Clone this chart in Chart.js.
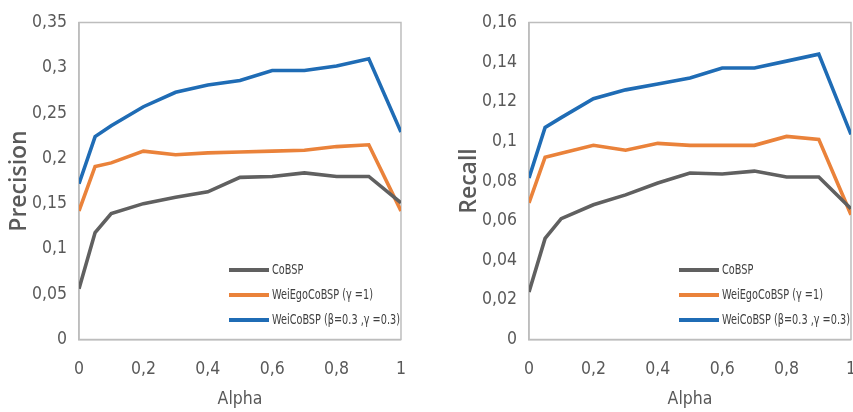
<!DOCTYPE html>
<html>
<head>
<meta charset="utf-8">
<script src="https://cdn.jsdelivr.net/npm/chart.js@4/dist/chart.umd.min.js"></script>
<style>
  html, body { margin: 0; padding: 0; background: #fff; overflow: hidden; width: 853px; height: 412px; }
  .panel { position: absolute; top: 0; width: 425px; height: 412px; }
  #leftPanel { left: 0; }
  #rightPanel { left: 450px; }
</style>
</head>
<body>
<div class="panel" id="leftPanel"><canvas id="precisionChart" width="425" height="412"></canvas></div>
<div class="panel" id="rightPanel"><canvas id="recallChart" width="425" height="412"></canvas></div>
<script>
// Alpha values on the x axis
const alphaValues = [0, 0.05, 0.1, 0.2, 0.3, 0.4, 0.5, 0.6, 0.7, 0.8, 0.9, 1];

// Series names
const seriesNames = ['CoBSP', 'WeiEgoCoBSP (γ =1)', 'WeiCoBSP (β=0.3 ,γ =0.3)'];

// Precision per alpha
const precisionCoBSP    = [0.056, 0.118, 0.139, 0.150, 0.157, 0.163, 0.179, 0.180, 0.184, 0.180, 0.180, 0.151];
const precisionWeiEgo   = [0.142, 0.191, 0.195, 0.208, 0.204, 0.206, 0.207, 0.208, 0.209, 0.213, 0.215, 0.142];
const precisionWeiCoBSP = [0.172, 0.224, 0.236, 0.257, 0.273, 0.281, 0.286, 0.297, 0.297, 0.302, 0.310, 0.229];

// Recall per alpha
const recallCoBSP    = [0.024, 0.051, 0.061, 0.068, 0.073, 0.079, 0.084, 0.0835, 0.085, 0.082, 0.082, 0.066];
const recallWeiEgo   = [0.069, 0.092, 0.094, 0.098, 0.0955, 0.099, 0.098, 0.098, 0.098, 0.1025, 0.101, 0.063];
const recallWeiCoBSP = [0.0815, 0.107, 0.112, 0.1215, 0.126, 0.129, 0.132, 0.137, 0.137, 0.1405, 0.144, 0.1035];

// Tick labels (comma decimal separator)
const alphaTickLabels     = ['0', '0,2', '0,4', '0,6', '0,8', '1'];
const precisionTickLabels = ['0', '0,05', '0,1', '0,15', '0,2', '0,25', '0,3', '0,35'];
const recallTickLabels    = ['0', '0,02', '0,04', '0,06', '0,08', '0,1', '0,12', '0,14', '0,16'];

const seriesColors = ['#606060', '#EA823A', '#1F6CB5'];
const NARROW = '"DejaVu Sans Condensed", "Liberation Sans Narrow", "Liberation Sans", sans-serif';
const TITLE_FONT = '"Open Sans", "DejaVu Sans", sans-serif';

// Box around the plot area
const plotFrame = {
  id: 'plotFrame',
  beforeDatasetsDraw(chart) {
    const { ctx, chartArea: a } = chart;
    ctx.save();
    ctx.strokeStyle = '#BDBDBD';
    ctx.lineWidth = 1.5;
    ctx.strokeRect(a.left, a.top, a.right - a.left, a.bottom - a.top);
    ctx.restore();
  }
};

// Legend drawn inside the lower right of the plot area, with condensed text
const innerLegend = {
  id: 'innerLegend',
  afterDatasetsDraw(chart) {
    const { ctx, chartArea: a } = chart;
    ctx.save();
    chart.data.datasets.forEach((ds, i) => {
      const y = a.bottom - 69.5 + i * 25;
      ctx.strokeStyle = ds.borderColor;
      ctx.lineWidth = 4;
      ctx.lineCap = 'butt';
      ctx.beginPath();
      ctx.moveTo(a.left + 150, y);
      ctx.lineTo(a.left + 190, y);
      ctx.stroke();
      ctx.save();
      ctx.translate(a.left + 193, y);
      ctx.scale(0.8, 1);
      ctx.font = '13.5px ' + NARROW;
      ctx.textBaseline = 'middle';
      ctx.textAlign = 'left';
      ctx.fillStyle = '#404040';
      ctx.fillText(ds.label, 0, 0);
      ctx.restore();
    });
    ctx.restore();
  }
};

function buildDatasets(valueLists) {
  return valueLists.map((vals, i) => ({
    label: seriesNames[i],
    data: alphaValues.map((a, k) => ({ x: a, y: vals[k] })),
    borderColor: seriesColors[i],
    backgroundColor: seriesColors[i],
    borderWidth: 3.6,
    pointRadius: 0,
    tension: 0,
    fill: false
  }));
}

function makeChart(canvasId, yTitle, yMax, yStep, yLabels, valueLists, rightPad) {
  return new Chart(document.getElementById(canvasId), {
    type: 'line',
    data: { datasets: buildDatasets(valueLists) },
    options: {
      responsive: false,
      animation: false,
      layout: { padding: { top: 20, right: rightPad, bottom: 0, left: 0 } },
      plugins: {
        legend: { display: false },
        tooltip: { enabled: false }
      },
      scales: {
        x: {
          type: 'linear',
          min: 0,
          max: 1,
          ticks: {
            stepSize: 0.2,
            color: '#595959',
            font: { family: NARROW, size: 17.5 },
            padding: 19,
            maxRotation: 0,
            callback: (v, i) => alphaTickLabels[i]
          },
          grid: { display: false, drawTicks: false },
          border: { display: true, color: '#BDBDBD', width: 1.5 },
          title: {
            display: true,
            text: 'Alpha',
            color: '#595959',
            font: { family: NARROW, size: 17.5 },
            padding: { top: 0, bottom: 2 }
          },
          afterFit: (s) => { s.height = 72.5; }
        },
        y: {
          type: 'linear',
          min: 0,
          max: yMax,
          ticks: {
            stepSize: yStep,
            color: '#595959',
            font: { family: NARROW, size: 17.5 },
            padding: 12,
            callback: (v, i) => yLabels[i]
          },
          grid: { display: false, drawTicks: false },
          border: { display: true, color: '#BDBDBD', width: 1.5 },
          title: {
            display: true,
            text: yTitle,
            color: '#5a5a5a',
            font: { family: TITLE_FONT, size: 23, weight: '600' },
            padding: { top: 6, bottom: 0 }
          },
          afterFit: (s) => { s.width = 79; }
        }
      }
    },
    plugins: [plotFrame, innerLegend]
  });
}

makeChart('precisionChart', 'Precision', 0.35, 0.05, precisionTickLabels,
  [precisionCoBSP, precisionWeiEgo, precisionWeiCoBSP], 23);
makeChart('recallChart', 'Recall', 0.16, 0.02, recallTickLabels,
  [recallCoBSP, recallWeiEgo, recallWeiCoBSP], 21.5);
</script>
</body>
</html>
